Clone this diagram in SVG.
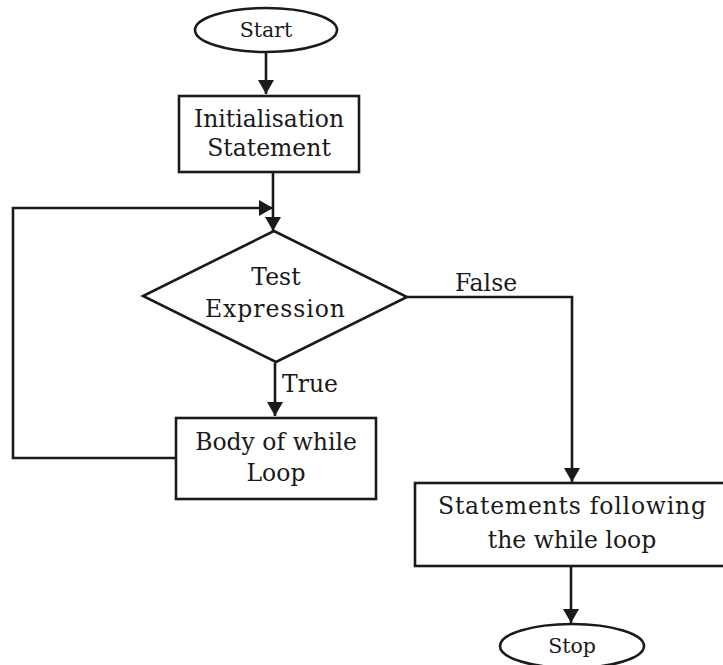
<svg xmlns="http://www.w3.org/2000/svg" width="723" height="665" viewBox="0 0 723 665">
<style>
.s{fill:none;stroke:#1a1a1a;stroke-width:2.6}
.b{fill:#fff;stroke:#1a1a1a;stroke-width:2.6}
text{font-family:"DejaVu Serif","Liberation Serif",serif;font-size:23.5px;fill:#1a1a1a;text-anchor:middle}
.sm{font-size:20.5px}
.l{text-anchor:start}
</style>
<defs>
<marker id="a" markerWidth="16" markerHeight="16" refX="14" refY="8" orient="auto" markerUnits="userSpaceOnUse">
<path d="M0,0 L14,8 L0,16 Z" fill="#1a1a1a"/>
</marker>
</defs>
<rect width="723" height="665" fill="#fff"/>
<g id="connectors">
<path class="s" d="M266,52 V94" marker-end="url(#a)"/>
<path class="s" d="M273,172 V231" marker-end="url(#a)"/>
<path class="s" d="M176,458 H13 V208 H273" marker-end="url(#a)"/>
<path class="s" d="M407,297 H572 V482" marker-end="url(#a)"/>
<path class="s" d="M275,363 V416" marker-end="url(#a)"/>
<path class="s" d="M571,566 V623" marker-end="url(#a)"/>
<text x="486" y="291">False</text>
<text class="l" x="282" y="392">True</text>
</g>
<g id="start">
<ellipse class="b" cx="266" cy="30" rx="71" ry="22"/>
<text class="sm" x="266" y="37">Start</text>
</g>
<g id="init">
<rect class="b" x="179" y="96" width="180" height="76"/>
<text x="269" y="127">Initialisation</text>
<text x="269" y="156">Statement</text>
</g>
<g id="test">
<polygon class="b" points="274,231 143,296 276,362 407,297"/>
<text x="276" y="285">Test</text>
<text x="275" y="317" textLength="140">Expression</text>
</g>
<g id="body">
<rect class="b" x="176" y="418" width="200" height="81"/>
<text x="276" y="450">Body of while</text>
<text x="276" y="481">Loop</text>
</g>
<g id="statements">
<rect class="b" x="415" y="483" width="312" height="83"/>
<text x="572" y="514" textLength="268">Statements following</text>
<text x="572" y="548">the while loop</text>
</g>
<g id="stop">
<ellipse class="b" cx="572" cy="646" rx="72" ry="22"/>
<text class="sm" x="572" y="653">Stop</text>
</g>
</svg>
